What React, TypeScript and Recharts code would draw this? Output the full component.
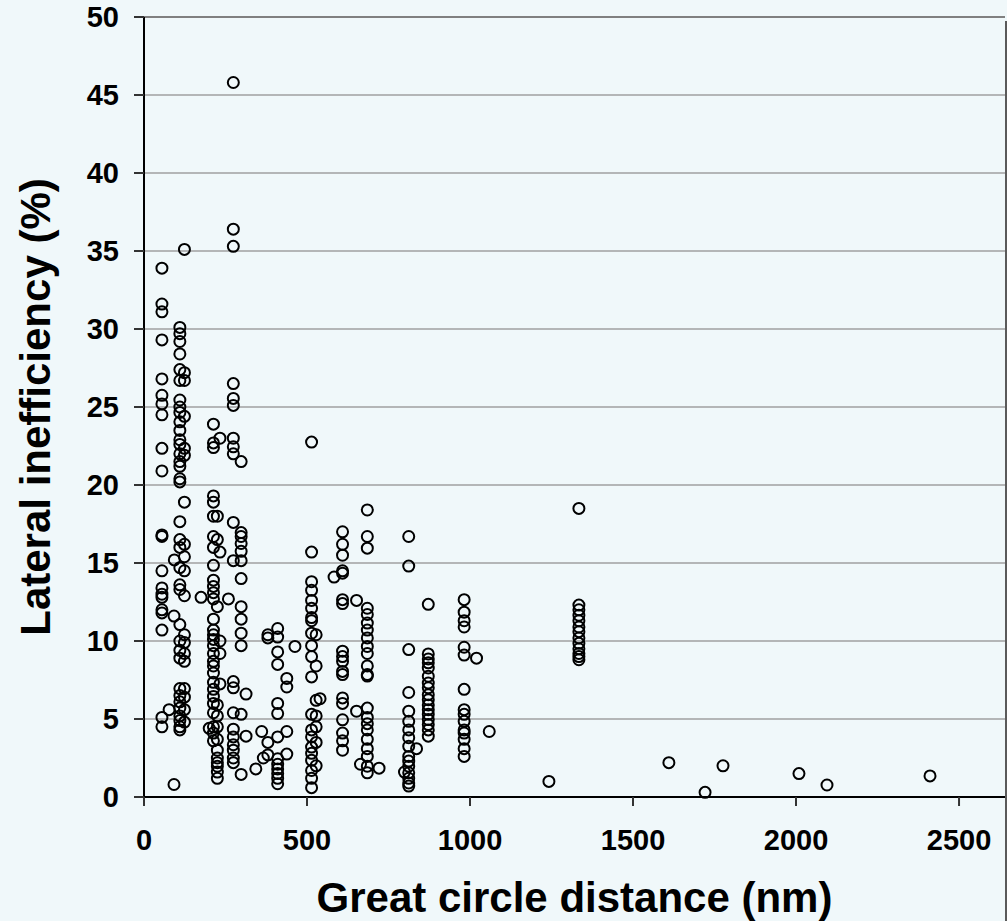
import { ScatterChart, Scatter, XAxis, YAxis, CartesianGrid, ReferenceLine } from "recharts";

type Pt = [number, number];

// distance (nm), lateral inefficiency (%)
const near55: Pt[] = [
  [55, 33.9], [55, 31.6], [55, 31.1], [55, 29.3], [55, 26.8], [55, 25.75], [55, 25.2], [55, 24.5],
  [55, 22.35], [55, 20.9], [55, 16.8], [55, 16.7], [55, 14.5], [55, 13.4], [55, 13.0], [55, 12.8],
  [55, 12.0], [55, 11.8], [55, 10.7], [55, 5.1], [55, 4.5], [77, 5.6], [92, 0.8], [93, 15.2], [92, 11.6],
];

const near115: Pt[] = [
  [110, 30.1], [110, 29.7], [110, 29.2], [110, 28.4], [110, 27.4], [110, 26.7], [110, 25.45], [110, 25.0],
  [110, 24.65], [110, 24.05], [110, 23.5], [110, 22.9], [110, 22.6], [110, 22.0], [110, 21.5], [110, 21.2],
  [110, 20.4], [110, 20.2], [110, 17.65], [110, 16.5], [110, 16.0], [110, 14.7], [110, 13.6], [110, 13.3],
  [110, 11.05], [110, 10.0], [110, 9.4], [110, 8.9], [110, 6.95], [110, 6.5], [110, 6.1], [110, 5.7],
  [110, 5.2], [110, 4.9], [110, 4.5], [110, 4.3],
  [124, 35.1], [124, 27.2], [124, 26.7], [124, 24.4], [124, 22.35], [124, 21.9], [124, 18.9], [124, 16.2],
  [124, 15.4], [124, 14.5], [124, 12.9], [124, 10.4], [124, 9.9], [124, 9.2], [124, 8.7], [124, 6.95],
  [124, 6.4], [124, 5.6], [124, 4.8], [175, 12.8],
];

const near220: Pt[] = [
  [213, 23.9], [213, 22.7], [213, 22.4], [213, 19.3], [213, 18.9], [213, 18.0], [213, 16.7], [213, 16.0],
  [213, 14.85], [213, 13.9], [213, 13.5], [213, 13.1], [213, 12.7], [213, 11.4], [213, 10.7], [213, 10.4],
  [213, 10.1], [213, 9.7], [213, 9.2], [213, 8.7], [213, 8.4], [213, 7.95], [213, 7.35], [213, 6.9],
  [213, 6.45], [213, 6.0], [213, 5.4], [213, 4.5], [213, 4.1], [213, 3.6],
  [225, 18.0], [225, 16.5], [225, 12.2], [225, 5.9], [225, 5.2], [225, 4.5], [225, 3.7], [225, 3.0],
  [225, 2.5], [225, 2.2], [225, 1.97], [225, 1.6], [225, 1.2],
  [233, 23.0], [233, 15.7], [233, 10.0], [233, 9.2], [233, 7.25], [200, 4.4],
];

const near280: Pt[] = [
  [274, 45.8], [274, 36.4], [274, 35.3], [274, 26.5], [274, 25.55], [274, 25.1], [274, 23.0], [274, 22.45],
  [274, 22.0], [274, 17.6], [274, 15.15], [274, 7.4], [274, 7.0], [274, 5.4], [274, 4.35], [274, 3.85],
  [274, 3.35], [274, 3.0], [274, 2.5], [274, 2.2],
  [298, 21.5], [298, 16.95], [298, 16.7], [298, 16.25], [298, 15.75], [298, 15.15], [298, 14.0], [298, 12.2],
  [298, 11.4], [298, 10.5], [298, 9.7], [298, 5.3], [298, 1.45],
  [313, 6.6], [313, 3.9], [259, 12.7], [343, 1.8],
];

const near410: Pt[] = [
  [380, 10.4], [380, 10.2], [380, 3.5], [380, 2.7],
  [410, 10.8], [410, 10.25], [410, 9.3], [410, 8.5], [410, 6.0], [410, 5.35], [410, 3.85], [410, 2.45],
  [410, 2.1], [410, 1.8], [410, 1.5], [410, 1.2], [410, 0.85],
  [438, 7.6], [438, 7.05], [438, 4.2], [438, 2.75], [463, 9.65], [361, 4.2], [366, 2.5],
];

const near520: Pt[] = [
  [514, 22.75], [514, 15.7], [514, 13.8], [514, 13.25], [514, 12.6], [514, 12.1], [514, 11.5], [514, 11.3],
  [514, 10.5], [514, 9.7], [514, 9.0], [514, 7.7], [514, 5.3], [514, 4.3], [514, 3.85], [514, 3.2],
  [514, 2.8], [514, 2.35], [514, 1.7], [514, 1.2], [514, 0.6],
  [528, 10.4], [528, 8.4], [528, 6.2], [528, 5.2], [528, 4.5], [528, 3.5], [528, 2.0], [540, 6.3],
];

const near610: Pt[] = [
  [609, 17.0], [609, 16.2], [609, 15.5], [609, 14.5], [609, 14.35], [609, 12.65], [609, 12.4], [609, 9.35],
  [609, 9.0], [609, 8.7], [609, 8.05], [609, 7.85], [609, 6.35], [609, 6.0], [609, 4.95], [609, 4.1],
  [609, 3.6], [609, 3.0], [652, 12.6], [652, 5.5], [583, 14.1],
];

const near685: Pt[] = [
  [685, 18.4], [685, 16.7], [685, 15.95], [685, 12.1], [685, 11.7], [685, 11.15], [685, 10.7], [685, 10.2],
  [685, 9.65], [685, 9.2], [685, 8.4], [685, 7.85], [685, 7.75], [685, 5.7], [685, 5.1], [685, 4.7],
  [685, 4.3], [685, 3.7], [685, 3.1], [685, 2.6], [685, 1.97], [685, 1.55], [664, 2.1], [721, 1.85],
];

const near810: Pt[] = [
  [812, 16.7], [812, 14.8], [812, 9.45], [812, 6.7], [812, 5.5], [812, 4.85], [812, 4.3], [812, 3.8],
  [812, 3.25], [812, 2.6], [812, 2.3], [812, 1.97], [812, 1.55], [812, 1.2], [812, 0.9], [812, 0.7],
  [836, 3.1], [799, 1.6],
];

const near870: Pt[] = [
  [872, 12.35], [872, 9.17], [872, 8.85], [872, 8.6], [872, 8.27], [872, 7.74], [872, 7.3], [872, 7.0],
  [872, 6.56], [872, 6.24], [872, 5.9], [872, 5.6], [872, 5.3], [872, 4.96], [872, 4.64], [872, 4.3], [872, 3.9],
];

const near980: Pt[] = [
  [982, 12.65], [982, 11.85], [982, 11.3], [982, 10.9], [982, 9.6], [982, 9.1], [982, 6.9], [982, 5.6],
  [982, 5.3], [982, 4.85], [982, 4.3], [982, 4.1], [982, 3.7], [982, 3.1], [982, 2.6], [1020, 8.9], [1059, 4.2],
];

const near1330: Pt[] = [
  [1334, 18.5], [1334, 12.3], [1334, 12.0], [1334, 11.65], [1334, 11.3], [1334, 10.9], [1334, 10.6],
  [1334, 10.2], [1334, 9.85], [1334, 9.5], [1334, 9.2], [1334, 9.0], [1334, 8.8],
];

const farFlights: Pt[] = [
  [1242, 1.0], [1610, 2.2], [1721, 0.3], [1776, 2.0], [2009, 1.5], [2095, 0.77], [2411, 1.35],
];

const xTicks = [0, 500, 1000, 1500, 2000, 2500];
const yTicks = [0, 5, 10, 15, 20, 25, 30, 35, 40, 45, 50];

const groups = [near55, near115, near220, near280, near410, near520, near610, near685, near810, near870, near980, near1330, farFlights];
const data = groups.flat().map(([x, y]) => ({ x, y }));

const font = "'Liberation Sans', Arial, sans-serif";
const bg = "#F0F8FA";

const Ring = (props: any) => (
  <circle cx={props.cx} cy={props.cy} r={5.5} fill="none" stroke="#000" strokeWidth={2} />
);

const XTitle = (props: any) => {
  const vb = props.viewBox;
  return (
    <text x={vb.x + vb.width / 2} y={vb.y + vb.height - 9} textAnchor="middle"
      fontFamily={font} fontWeight="bold" fontSize={42} fill="#000">
      Great circle distance (nm)
    </text>
  );
};

const YTitle = (props: any) => {
  const vb = props.viewBox;
  const cx = 37;
  const cy = vb.y + vb.height / 2;
  return (
    <text x={cx} y={cy} dy="0.3em" transform={`rotate(-90 ${cx} ${cy})`} textAnchor="middle"
      fontFamily={font} fontWeight="bold" fontSize={42} fill="#000">
      Lateral inefficiency (%)
    </text>
  );
};

export default function App() {
  const tickStyle = { fill: "#000", fontSize: 29, fontWeight: "bold", fontFamily: font };
  return (
    <div style={{ position: "absolute", left: 0, top: 0, width: 1007, height: 921, background: bg, overflow: "hidden" }}>
      <ScatterChart width={1007} height={921} margin={{ top: 17, right: 2, bottom: 0, left: 0 }}>
        <CartesianGrid horizontal vertical={false} stroke="#A0A0A0" strokeWidth={1.5} />
        <XAxis type="number" dataKey="x" domain={[0, 2641]} ticks={xTicks} allowDataOverflow
          height={124} tickSize={9} tickMargin={23} tick={tickStyle}
          axisLine={{ stroke: "#000", strokeWidth: 2 }} tickLine={{ stroke: "#333", strokeWidth: 2 }}
          label={<XTitle />} />
        <YAxis type="number" dataKey="y" domain={[0, 50]} ticks={yTicks}
          width={144} tickSize={10} tickMargin={15} tick={tickStyle}
          axisLine={{ stroke: "#000", strokeWidth: 2 }} tickLine={{ stroke: "#333", strokeWidth: 2 }}
          label={<YTitle />} />
        <ReferenceLine y={50} stroke="#808080" strokeWidth={2} />
        <Scatter data={data} shape={<Ring />} isAnimationActive={false} />
      </ScatterChart>
      <div style={{ position: "absolute", left: 1005, top: 21, width: 2, height: 900, background: "#5A5A5A" }} />
    </div>
  );
}
